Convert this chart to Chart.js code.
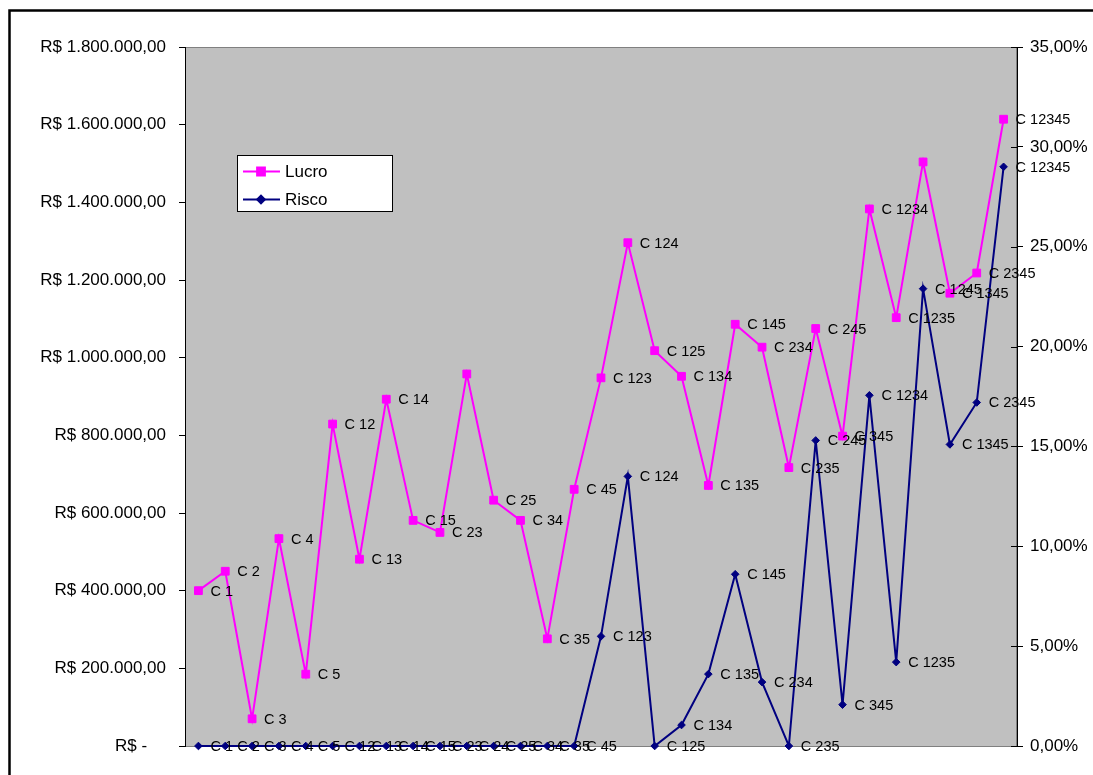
<!DOCTYPE html>
<html>
<head>
<meta charset="utf-8">
<title>Lucro x Risco</title>
<script src="https://cdn.jsdelivr.net/npm/chart.js@4/dist/chart.umd.min.js"></script>
<style>
  html, body { margin: 0; padding: 0; background: #ffffff; }
  #wrap { position: relative; width: 1093px; height: 775px; }
</style>
</head>
<body>
<div id="wrap"><canvas id="chart" width="1093" height="775"></canvas></div>
<script>
// Portfolio combinations
const categories = ['C 1', 'C 2', 'C 3', 'C 4', 'C 5', 'C 12', 'C 13', 'C 14', 'C 15', 'C 23',
  'C 24', 'C 25', 'C 34', 'C 35', 'C 45', 'C 123', 'C 124', 'C 125', 'C 134', 'C 135',
  'C 145', 'C 234', 'C 235', 'C 245', 'C 345', 'C 1234', 'C 1235', 'C 1245', 'C 1345',
  'C 2345', 'C 12345'];

// Profit (R$) for each combination
const lucro = [400000, 450000, 70000, 534000, 185000, 829000, 481000, 893000, 581000, 550000,
  958000, 633000, 581000, 276000, 661000, 948000, 1296000, 1018000, 952000, 671000,
  1086000, 1027000, 717000, 1075000, 798000, 1383000, 1103000, 1504000, 1166000,
  1218000, 1614000];

// Risk (%) for each combination
const risco = [0, 0, 0, 0, 0, 0, 0, 0, 0, 0,
  0, 0, 0, 0, 0, 5.49, 13.5, 0, 1.05, 3.6,
  8.6, 3.2, 0, 15.3, 2.07, 17.56, 4.2, 22.9, 15.1,
  17.2, 29.0];

// Profit points that carry no name tag
const lucroSemRotulo = ['C 24', 'C 1245'];

// Axis ranges
const lucroMax = 1800000, lucroStep = 200000;
const riscoMax = 35, riscoStep = 5;

const FONT = '"Liberation Sans", Arial, sans-serif';
const PINK = '#FF00FF';
const NAVY = '#000080';

function formatReais(v) {
  if (v === 0) return 'R$ -    ';
  const inteiro = Math.round(v).toString().replace(/\B(?=(\d{3})+(?!\d))/g, '.');
  return 'R$ ' + inteiro + ',00';
}
function formatPct(v) {
  return v.toFixed(2).replace('.', ',') + '%';
}

// Outer frame and grey plot area
const framePlugin = {
  id: 'frame',
  beforeDraw(chart) {
    const { ctx, chartArea: a } = chart;
    ctx.save();
    ctx.fillStyle = '#ffffff';
    ctx.fillRect(0, 0, chart.width, chart.height);
    ctx.strokeStyle = '#000000';
    ctx.lineWidth = 2.5;
    ctx.strokeRect(9.5, 10.5, chart.width + 20, chart.height + 20);
    ctx.fillStyle = '#C0C0C0';
    ctx.fillRect(a.left, a.top, a.right - a.left, a.bottom - a.top);
    ctx.strokeStyle = '#808080';
    ctx.lineWidth = 1;
    ctx.strokeRect(a.left + 0.5, a.top + 0.5, a.right - a.left - 1, a.bottom - a.top);
    ctx.restore();
  },
  afterDraw(chart) {
    // inner half of the right-axis tick marks
    const { ctx, chartArea: a } = chart;
    const s = chart.scales.y1;
    ctx.save();
    ctx.strokeStyle = '#000000';
    ctx.lineWidth = 1;
    s.ticks.forEach((t, i) => {
      const y = Math.round(s.getPixelForTick(i)) + 0.5;
      ctx.beginPath();
      ctx.moveTo(a.right - 6, y);
      ctx.lineTo(a.right, y);
      ctx.stroke();
    });
    ctx.restore();
  }
};

// Name tag next to every marker
const tagPlugin = {
  id: 'tags',
  afterDatasetsDraw(chart) {
    const { ctx } = chart;
    ctx.save();
    ctx.font = '14.5px ' + FONT;
    ctx.fillStyle = '#000000';
    ctx.textAlign = 'left';
    ctx.textBaseline = 'middle';
    chart.data.datasets.forEach((ds, di) => {
      const meta = chart.getDatasetMeta(di);
      meta.data.forEach((pt, i) => {
        const name = categories[i];
        if (di === 0 && lucroSemRotulo.includes(name)) return;
        ctx.fillText(name, pt.x + 12, pt.y + 1);
      });
    });
    ctx.restore();
  }
};

// Boxed legend inside the plot area
const legendPlugin = {
  id: 'boxLegend',
  afterDraw(chart) {
    const { ctx } = chart;
    const x = 237.5, y = 155.5, w = 155, h = 56;
    ctx.save();
    ctx.fillStyle = '#ffffff';
    ctx.fillRect(x, y, w, h);
    ctx.strokeStyle = '#000000';
    ctx.lineWidth = 1;
    ctx.strokeRect(x, y, w, h);
    const rows = [171.5, 199.5];
    chart.data.datasets.forEach((ds, i) => {
      const ry = rows[i];
      ctx.strokeStyle = ds.borderColor;
      ctx.lineWidth = 2;
      ctx.beginPath();
      ctx.moveTo(243, ry);
      ctx.lineTo(280, ry);
      ctx.stroke();
      Chart.helpers.drawPoint(ctx, {
        pointStyle: ds.pointStyle,
        radius: ds.pointRadius,
        borderWidth: 1
      }, 261, ry);
      ctx.fillStyle = ds.pointBackgroundColor;
      ctx.strokeStyle = ds.pointBorderColor;
      ctx.fill();
      ctx.fillStyle = '#000000';
      ctx.font = '17px ' + FONT;
      ctx.textAlign = 'left';
      ctx.textBaseline = 'middle';
      ctx.fillText(ds.label, 285, ry + 1);
    });
    ctx.restore();
  }
};

new Chart(document.getElementById('chart'), {
  type: 'line',
  data: {
    labels: categories,
    datasets: [
      {
        label: 'Lucro',
        data: lucro,
        yAxisID: 'y',
        borderColor: PINK,
        backgroundColor: PINK,
        borderWidth: 2,
        tension: 0,
        pointStyle: 'rect',
        pointRadius: 5.5,
        pointBorderWidth: 1,
        pointBackgroundColor: PINK,
        pointBorderColor: PINK,
        clip: false,
        order: 1
      },
      {
        label: 'Risco',
        data: risco,
        yAxisID: 'y1',
        borderColor: NAVY,
        backgroundColor: NAVY,
        borderWidth: 2,
        tension: 0,
        pointStyle: 'rectRot',
        pointRadius: 3.8,
        pointBorderWidth: 1,
        pointBackgroundColor: NAVY,
        pointBorderColor: NAVY,
        clip: false,
        order: 0
      }
    ]
  },
  options: {
    responsive: false,
    animation: false,
    events: [],
    layout: { padding: { top: 47, bottom: 29, left: 0, right: 0 } },
    plugins: {
      legend: { display: false },
      tooltip: { enabled: false },
      title: { display: false }
    },
    scales: {
      x: {
        type: 'category',
        offset: true,
        display: false
      },
      y: {
        position: 'left',
        min: 0,
        max: lucroMax,
        afterFit(s) { s.width = 185; },
        border: { display: true, color: '#000000', width: 1 },
        grid: { drawOnChartArea: false, drawTicks: true, tickLength: 6, tickColor: '#000000' },
        ticks: {
          stepSize: lucroStep,
          padding: 13,
          color: '#000000',
          font: { family: FONT, size: 17 },
          callback: v => formatReais(v)
        }
      },
      y1: {
        position: 'right',
        min: 0,
        max: riscoMax,
        afterFit(s) { s.width = 76; },
        border: { display: true, color: '#000000', width: 1 },
        grid: { drawOnChartArea: false, drawTicks: true, tickLength: 6, tickColor: '#000000' },
        ticks: {
          stepSize: riscoStep,
          padding: 7,
          color: '#000000',
          font: { family: FONT, size: 17 },
          callback: v => formatPct(v)
        }
      }
    }
  },
  plugins: [framePlugin, tagPlugin, legendPlugin]
});
</script>
</body>
</html>
